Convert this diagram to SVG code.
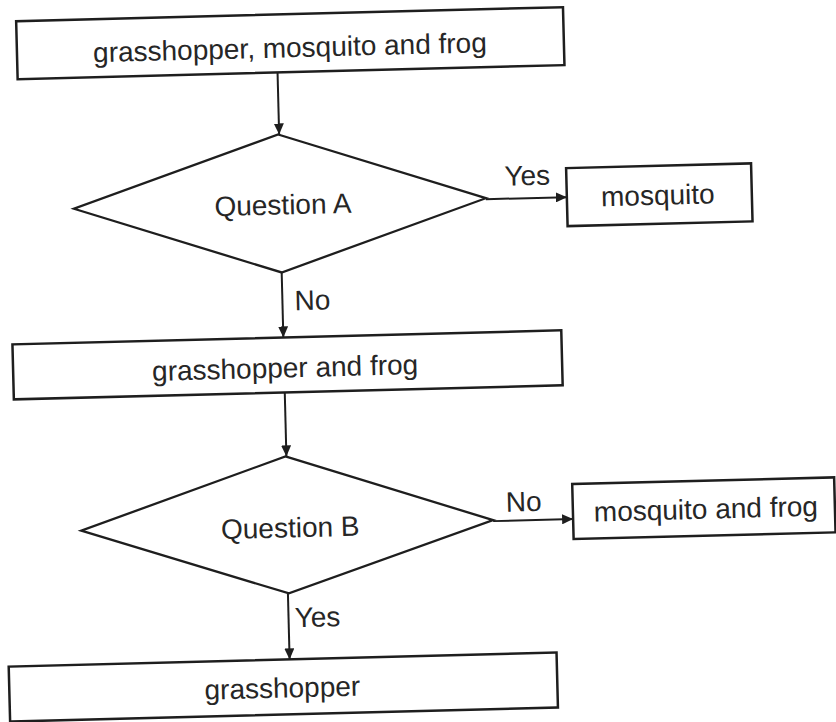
<svg xmlns="http://www.w3.org/2000/svg" width="836" height="722" viewBox="0 0 836 722">
<style>
.box{fill:none;stroke:#1e1e1e;stroke-width:2.5}
.dia{fill:none;stroke:#1e1e1e;stroke-width:2.3;stroke-linejoin:miter}
.con{fill:none;stroke:#1e1e1e;stroke-width:2;marker-end:url(#ah)}
text{font-family:"Liberation Sans",Arial,sans-serif;font-size:28px;fill:#262626;text-anchor:middle}
</style>
<defs>
<marker id="ah" markerUnits="userSpaceOnUse" markerWidth="12" markerHeight="10" refX="11" refY="5" orient="auto">
<path d="M0,0 L11,5 L0,10 z" fill="#1e1e1e"/>
</marker>
</defs>
<rect width="836" height="722" fill="#ffffff"/>
<g transform="rotate(-1.47 418 361)">
<g id="connectors">
<line class="con" x1="285" y1="69" x2="285" y2="131"/>
<line class="con" x1="490" y1="201" x2="571" y2="201"/>
<line class="con" x1="284" y1="269" x2="284" y2="334"/>
<line class="con" x1="284" y1="389" x2="284" y2="453"/>
<line class="con" x1="489" y1="523" x2="569" y2="523"/>
<line class="con" x1="282" y1="590" x2="282" y2="656"/>
<text x="532" y="188">Yes</text>
<text x="314" y="307">No</text>
<text x="520" y="514">No</text>
<text x="311" y="624">Yes</text>
</g>
<g id="start">
<rect class="box" x="25" y="11" width="547" height="58"/>
<text x="298" y="54">grasshopper, mosquito and frog</text>
</g>
<g id="questionA">
<polygon class="dia" points="284,131 490,200 284,269 78,200"/>
<text x="287" y="211">Question A</text>
</g>
<g id="mosquito">
<rect class="box" x="571" y="172" width="185" height="58"/>
<text x="662" y="211">mosquito</text>
</g>
<g id="grasshopperFrog">
<rect class="box" x="13" y="334" width="549" height="55"/>
<text x="285" y="374">grasshopper and frog</text>
</g>
<g id="questionB">
<polygon class="dia" points="283,453 489,522 283,590 77,522"/>
<text x="286" y="534">Question B</text>
</g>
<g id="mosquitoFrog">
<rect class="box" x="569" y="488" width="262" height="55"/>
<text x="702" y="526">mosquito and frog</text>
</g>
<g id="grasshopper">
<rect class="box" x="1" y="656" width="548" height="55"/>
<text x="274" y="694">grasshopper</text>
</g>
</g>
</svg>
